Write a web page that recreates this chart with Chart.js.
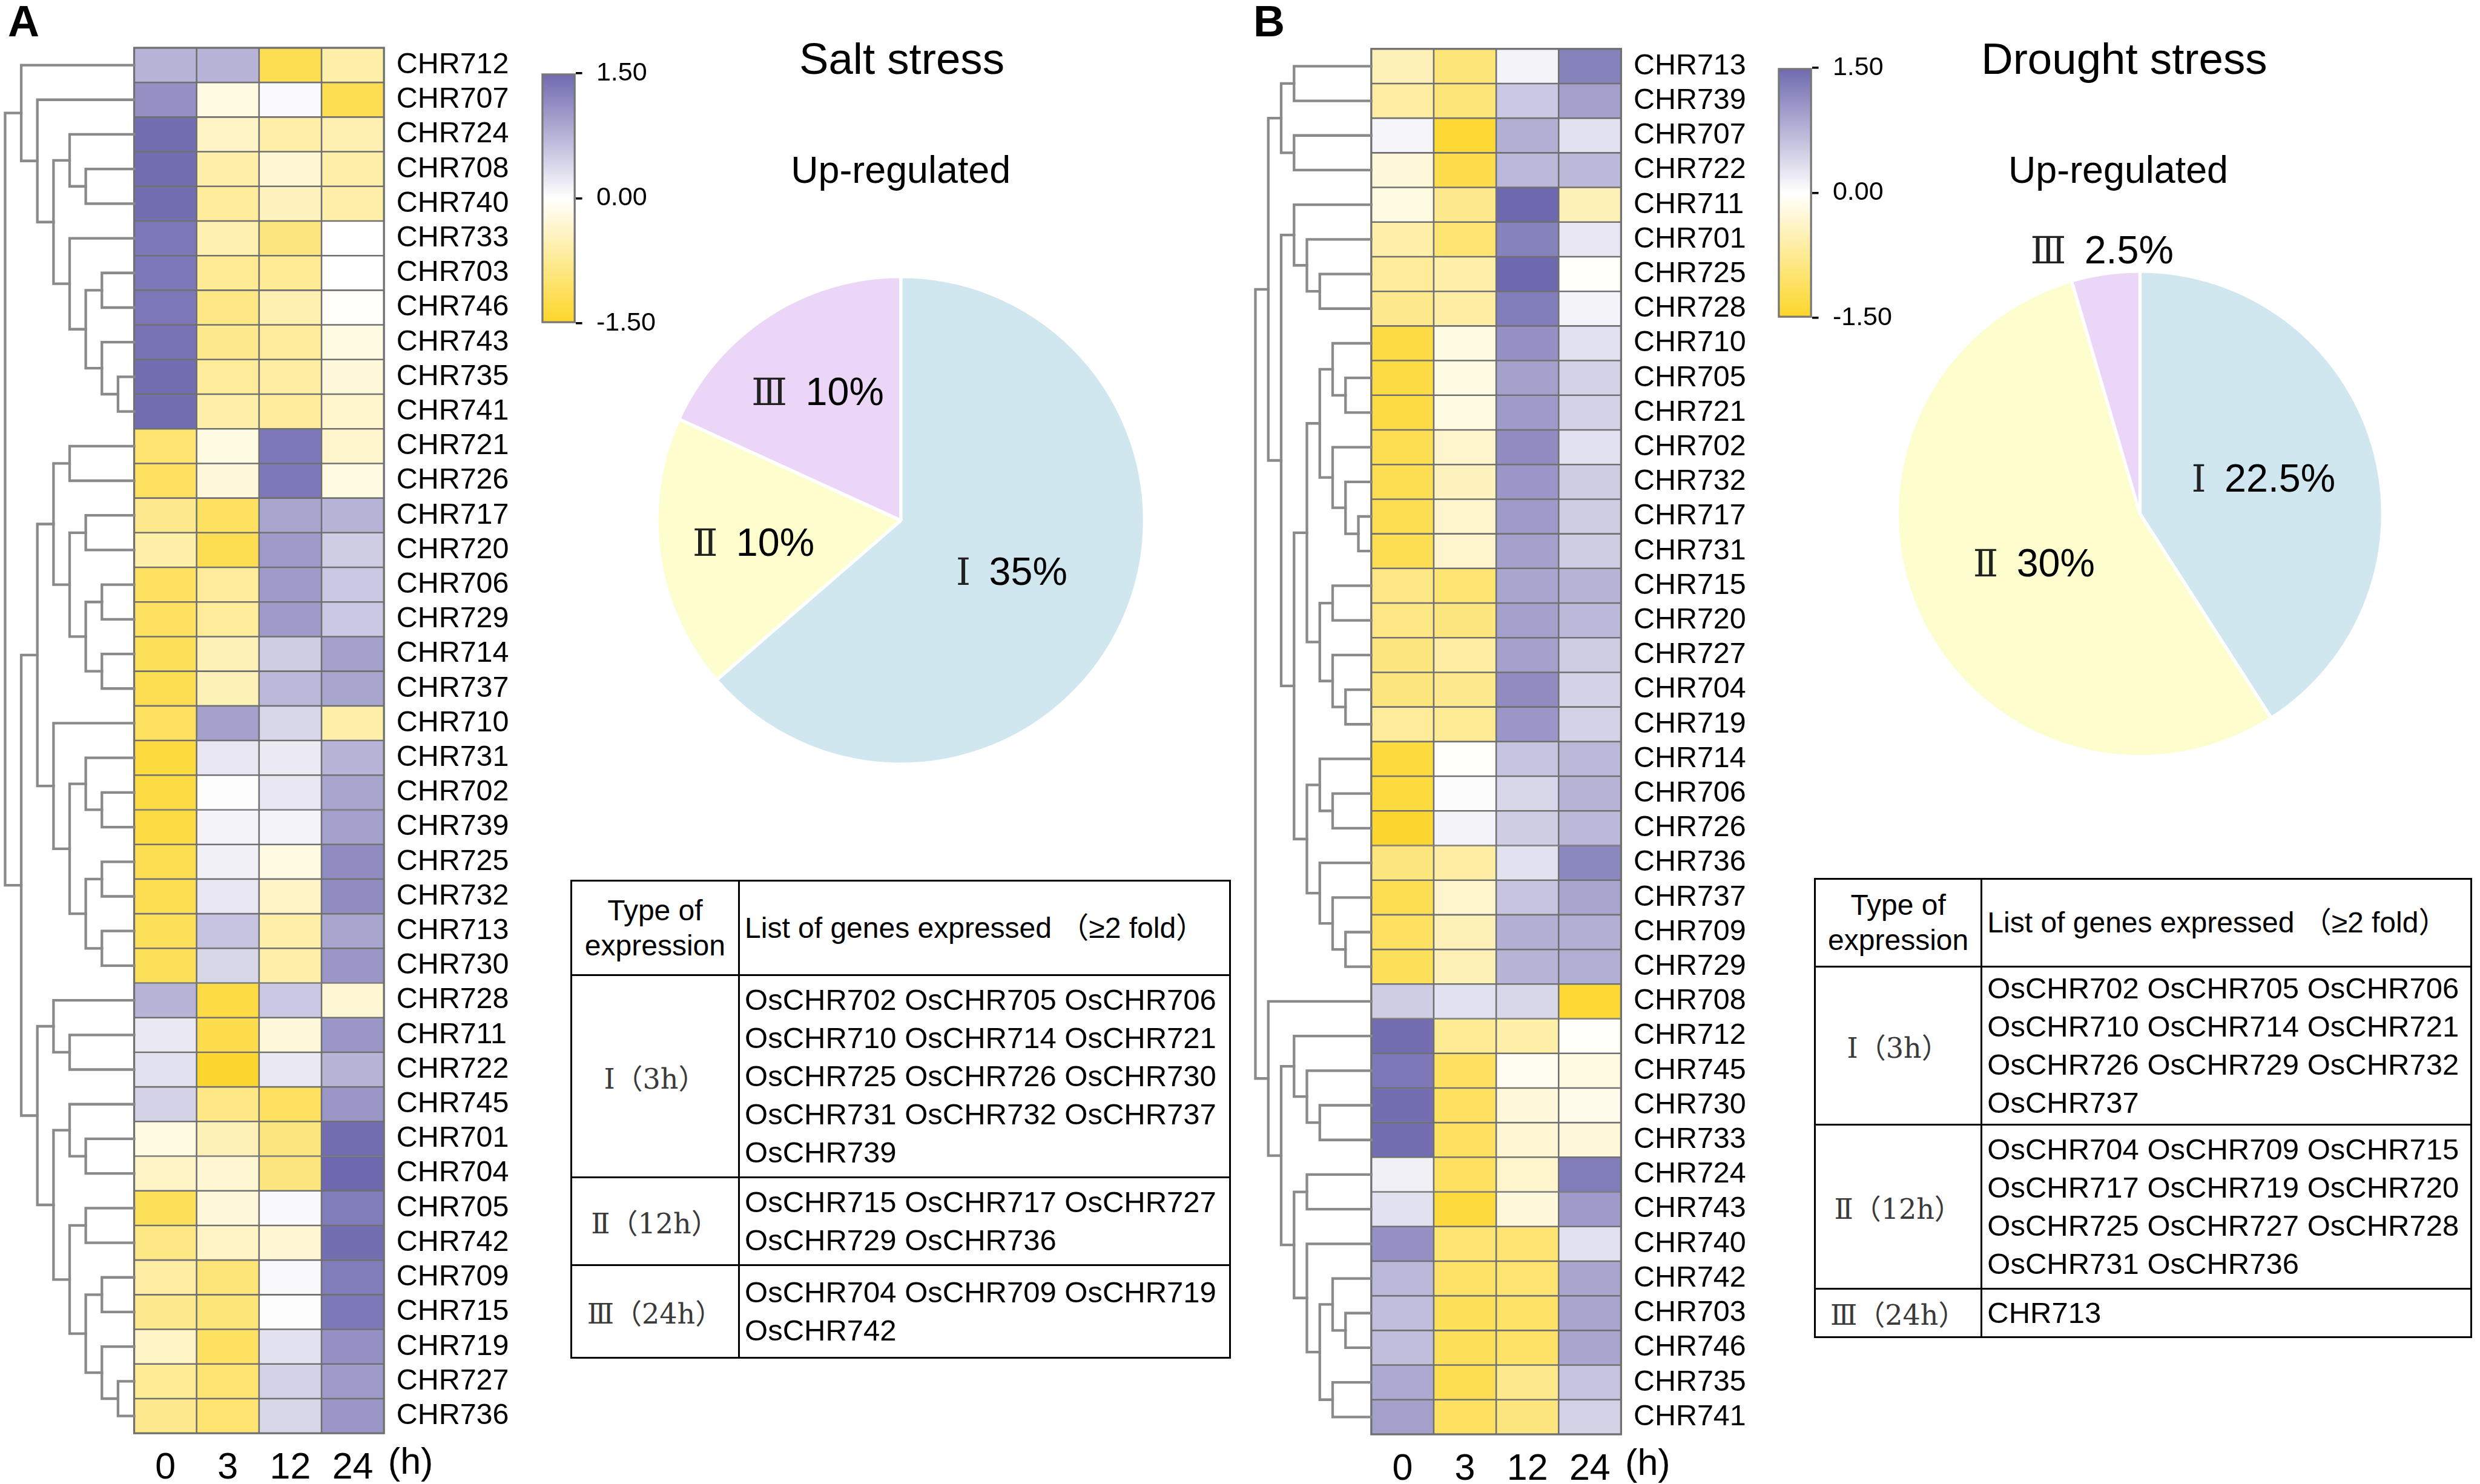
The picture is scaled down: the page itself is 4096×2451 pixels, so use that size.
<!DOCTYPE html>
<html>
<head>
<meta charset="utf-8">
<script src="https://cdn.jsdelivr.net/npm/chart.js@4.4.1/dist/chart.umd.min.js"></script>
<style>
  html, body { margin: 0; padding: 0; background: #fff; }
  #page { position: relative; width: 4096px; height: 2451px; overflow: hidden; background: #fff;
          font-family: 'Liberation Sans', Arial, 'Noto Sans CJK SC', sans-serif; }
  canvas { position: absolute; }
  .letter { position: absolute; font-weight: bold; font-size: 72px; line-height: 1; color: #000; }
  table.genes { position: absolute; border-collapse: collapse; table-layout: fixed; color: #000; }
  table.genes td { border: 3px solid #000; padding: 0 0 0 8px; vertical-align: middle; }
  table.genes td.kind { text-align: center; padding: 0; font-family: 'DejaVu Serif', 'Liberation Serif', 'Noto Sans CJK SC', serif;
                        font-size: 46px; color: #3a3a3a; }
  table.genes td.head { font-size: 48px; line-height: 58px; }
  table.genes td.head.kind { font-family: 'Liberation Sans', Arial, 'Noto Sans CJK SC', sans-serif; color: #000; }
  table.genes td.list { font-size: 49px; line-height: 63px; }
</style>
</head>
<body>
<div id="page"></div>
<script>
const S = 0.897;              // reference px -> window px
const px = v => v * S;
const sans = "'Liberation Sans', Arial, 'Noto Sans CJK SC', sans-serif";
const serif = "'DejaVu Serif', 'Liberation Serif', 'Noto Sans CJK SC', serif";

// ---- data ----
const hours = ['0', '3', '12', '24'];

const saltGenes = ['CHR712','CHR707','CHR724','CHR708','CHR740','CHR733','CHR703','CHR746','CHR743','CHR735',
  'CHR741','CHR721','CHR726','CHR717','CHR720','CHR706','CHR729','CHR714','CHR737','CHR710',
  'CHR731','CHR702','CHR739','CHR725','CHR732','CHR713','CHR730','CHR728','CHR711','CHR722',
  'CHR745','CHR701','CHR704','CHR705','CHR742','CHR709','CHR715','CHR719','CHR727','CHR736'];
const salt0 = [0.75,1.1,1.45,1.45,1.45,1.35,1.35,1.35,1.4,1.45,1.45,-1.0,-1.1,-0.8,-0.6,-1.1,-1.1,-1.15,-1.2,-1.1,
  -1.35,-1.3,-1.3,-1.2,-1.2,-1.15,-1.15,0.75,0.22,0.3,0.45,-0.2,-0.4,-1.15,-0.85,-0.65,-0.8,-0.4,-0.75,-0.8];
const salt3 = [0.75,-0.2,-0.4,-0.6,-0.7,-0.55,-0.75,-0.85,-0.8,-0.7,-0.6,-0.2,-0.25,-1.1,-1.2,-0.7,-0.7,-0.5,-0.5,0.95,
  0.25,0.02,0.12,0.15,0.25,0.6,0.4,-1.3,-1.25,-1.45,-0.85,-0.5,-0.3,-0.25,-0.4,-0.95,-0.95,-1.1,-1.0,-1.0];
const salt12 = [-1.2,0.05,-0.6,-0.3,-0.45,-0.9,-0.75,-0.55,-0.7,-0.65,-0.7,1.35,1.35,0.9,1.0,1.0,1.0,0.5,0.7,0.4,
  0.2,0.25,0.12,-0.2,-0.4,-0.6,-0.6,0.55,-0.25,0.22,-1.1,-0.9,-0.9,0.06,-0.3,0.06,0.02,0.3,0.45,0.4];
const salt24 = [-0.6,-1.2,-0.55,-0.6,-0.6,0,0,-0.05,-0.2,-0.25,-0.35,-0.35,-0.2,0.75,0.5,0.55,0.55,0.95,0.9,-0.6,
  0.75,0.9,0.95,1.15,1.15,0.9,1.05,-0.3,1.05,0.75,1.05,1.45,1.5,1.3,1.45,1.3,1.35,1.1,1.0,1.05];

const droughtGenes = ['CHR713','CHR739','CHR707','CHR722','CHR711','CHR701','CHR725','CHR728','CHR710','CHR705',
  'CHR721','CHR702','CHR732','CHR717','CHR731','CHR715','CHR720','CHR727','CHR704','CHR719',
  'CHR714','CHR706','CHR726','CHR736','CHR737','CHR709','CHR729','CHR708','CHR712','CHR745',
  'CHR730','CHR733','CHR724','CHR743','CHR740','CHR742','CHR703','CHR746','CHR735','CHR741'];
const drought0 = [-0.5,-0.65,0.1,-0.25,-0.2,-0.6,-0.7,-0.8,-1.3,-1.3,-1.3,-1.2,-1.2,-1.2,-1.2,-0.85,-0.85,-0.9,-0.9,-0.7,
  -1.35,-1.35,-1.45,-0.9,-1.2,-1.1,-1.15,0.5,1.45,1.35,1.45,1.45,0.15,0.3,1.1,0.7,0.65,0.65,0.85,0.95];
const drought3 = [-0.95,-0.95,-1.4,-1.25,-0.8,-1.0,-0.6,-0.65,-0.2,-0.2,-0.2,-0.35,-0.45,-0.35,-0.35,-1.0,-0.9,-0.65,-0.8,-0.75,
  -0.05,0.03,0.12,-0.65,-0.35,-0.5,-0.5,0.3,-0.75,-1.1,-1.1,-1.1,-1.1,-1.35,-1.0,-1.05,-1.15,-1.15,-1.2,-1.1];
const drought12 = [0.12,0.55,0.8,0.7,1.5,1.25,1.5,1.3,1.1,0.95,1.0,1.15,1.05,1.0,0.95,0.9,0.95,0.95,1.15,1.05,
  0.6,0.4,0.5,0.3,0.6,0.8,0.75,0.4,-0.6,-0.1,-0.25,-0.3,-0.35,-0.25,-1.0,-1.0,-1.05,-1.05,-0.8,-0.9];
const drought24 = [1.25,0.95,0.3,0.7,-0.5,0.25,-0.05,0.12,0.3,0.45,0.45,0.3,0.5,0.5,0.5,0.75,0.7,0.5,0.45,0.45,
  0.7,0.75,0.7,1.2,0.9,0.8,0.8,-1.4,-0.05,-0.2,-0.15,-0.25,1.3,1.0,0.3,0.9,0.9,0.9,0.6,0.45];

// dendrograms: [left, right, height], leaves are row indexes
const saltTree = [
  [0, [1, [[2, [3, 4, 3], 4], [5, [[6, 7, 2], [8, [9, 10, 1], 2], 3], 4], 5], 6], 7],
  [
    [[[11, 12, 4], [[13, 14, 3], [[15, 16, 2], [17, 18, 2], 3], 4], 5],
     [19, [[20, [21, 22, 2], 3], [[23, 24, 2], [25, 26, 2], 3], 4], 5], 6],
    [[27, [28, 29, 4], 5],
     [[30, [31, 32, 3], 4], [[33, 34, 3], [[35, 36, 2], [37, [38, 39, 1], 2], 3], 4], 5], 6],
    7],
  8];
const droughtTree = [
  [
    [[0, 1, 6], [2, 3, 6], 7],
    [[4, [5, [6, 7, 4], 5], 6],
     [[[[8, [9, 10, 2], 3], [11, [12, [13, 14, 1], 2], 3], 4], [[15, 16, 3], [17, [18, 19, 2], 3], 4], 5],
      [[20, [21, 22, 3], 4], [23, [24, [25, 26, 2], 3], 4], 5], 6],
     7],
    8],
  [27, [[28, [29, [30, 31, 4], 5], 6],
        [[32, 33, 5], [34, [[35, [36, 37, 2], 3], [38, 39, 3], 4], 5], 6], 7], 8],
  9];

const colorTicks = [-1.5, 0, 1.5];

const pieRoman = ['Ⅰ', 'Ⅱ', 'Ⅲ'];
const saltPie = [35, 10, 10];
const droughtPie = [22.5, 30, 2.5];

const saltTable = [
  ['Ⅰ（3h）', ['OsCHR702 OsCHR705 OsCHR706', 'OsCHR710 OsCHR714 OsCHR721', 'OsCHR725 OsCHR726 OsCHR730', 'OsCHR731 OsCHR732 OsCHR737', 'OsCHR739']],
  ['Ⅱ（12h）', ['OsCHR715 OsCHR717 OsCHR727', 'OsCHR729 OsCHR736']],
  ['Ⅲ（24h）', ['OsCHR704 OsCHR709 OsCHR719', 'OsCHR742']]
];
const droughtTable = [
  ['Ⅰ（3h）', ['OsCHR702 OsCHR705 OsCHR706', 'OsCHR710 OsCHR714 OsCHR721', 'OsCHR726 OsCHR729 OsCHR732', 'OsCHR737']],
  ['Ⅱ（12h）', ['OsCHR704 OsCHR709 OsCHR715', 'OsCHR717 OsCHR719 OsCHR720', 'OsCHR725 OsCHR727 OsCHR728', 'OsCHR731 OsCHR736']],
  ['Ⅲ（24h）', ['CHR713']]
];

// ---- colours ----
const PURPLE = [110, 105, 175];
const YELLOW = [253, 214, 40];
const pieColors = ['#d0e7ef', '#fdfdcd', '#ecd6f8'];

function heatColor(v) {
  let t = Math.max(-1, Math.min(1, v / 1.5));
  const end = t >= 0 ? PURPLE : YELLOW;
  t = Math.abs(t);
  const c = end.map(e => Math.round(255 + (e - 255) * t));
  return `rgb(${c[0]},${c[1]},${c[2]})`;
}

Chart.defaults.font.family = sans;
Chart.defaults.color = '#000';
Chart.defaults.animation = false;

const page = document.getElementById('page');

function makeCanvas(x, y, w, h) {
  const c = document.createElement('canvas');
  c.width = Math.round(px(w));
  c.height = Math.round(px(h));
  c.style.left = Math.round(px(x)) + 'px';
  c.style.top = Math.round(px(y)) + 'px';
  c.style.width = c.width + 'px';
  c.style.height = c.height + 'px';
  page.appendChild(c);
  return c;
}

// draws the cluster tree to the left of the heatmap
function drawTree(ctx, node, leafY, leftX, step) {
  if (typeof node === 'number') return { x: leftX, y: leafY(node) };
  const a = drawTree(ctx, node[0], leafY, leftX, step);
  const b = drawTree(ctx, node[1], leafY, leftX, step);
  const x = leftX - node[2] * step;
  ctx.beginPath();
  ctx.moveTo(a.x, a.y);
  ctx.lineTo(x, a.y);
  ctx.lineTo(x, b.y);
  ctx.lineTo(b.x, b.y);
  ctx.stroke();
  return { x: x, y: (a.y + b.y) / 2 };
}

const heatExtras = {
  id: 'heatExtras',
  afterDraw(chart, args, o) {
    const ctx = chart.ctx;
    const area = chart.chartArea;
    const ys = chart.scales.y;
    const xs = chart.scales.x;
    ctx.save();
    ctx.strokeStyle = '#707070';
    ctx.lineWidth = px(3.6);
    ctx.strokeRect(area.left, area.top, area.right - area.left, area.bottom - area.top);
    ctx.strokeStyle = '#8a8a8a';
    ctx.lineWidth = px(4.8);
    ctx.lineCap = 'square';
    drawTree(ctx, o.tree, i => ys.getPixelForValue(i + 0.5), area.left, px(o.step));
    ctx.fillStyle = '#000';
    const f = px(68);
    ctx.font = `${f}px ${sans}`;
    ctx.textAlign = 'center';
    ctx.textBaseline = 'middle';
    ctx.fillText('(h)', area.right + px(49), xs.top + px(15) + f * 0.6);
    ctx.restore();
  }
};

function buildHeatmap(box, genes, cols, tree, step) {
  const canvas = makeCanvas(box.x, box.y, box.w, box.h);
  const datasets = genes.map((g, i) => ({
    label: g,
    data: hours.map(() => 1),
    backgroundColor: cols.map(c => heatColor(c[i])),
    borderColor: '#707070',
    borderWidth: px(1.8),
    borderSkipped: false,
    barPercentage: 1,
    categoryPercentage: 1
  }));
  new Chart(canvas, {
    type: 'bar',
    data: { labels: hours, datasets: datasets },
    options: {
      responsive: false,
      animation: false,
      devicePixelRatio: 1,
      layout: { padding: { left: px(box.areaLeft), top: px(box.areaTop), right: 0, bottom: 0 } },
      plugins: { legend: { display: false }, tooltip: { enabled: false }, heatExtras: { tree: tree, step: step } },
      scales: {
        x: {
          stacked: true,
          grid: { display: false },
          border: { display: false },
          ticks: { font: { size: px(68) }, color: '#000', padding: px(15), maxRotation: 0 },
          afterFit: a => { a.height = canvas.height - px(box.areaBottom); }
        },
        y: {
          stacked: true,
          position: 'right',
          reverse: true,
          min: 0,
          max: genes.length,
          grid: { display: false },
          border: { display: false },
          afterBuildTicks: a => { a.ticks = genes.map((g, i) => ({ value: i + 0.5 })); },
          ticks: { autoSkip: false, font: { size: px(54) }, color: '#000', padding: px(14),
                   callback: (v, i) => genes[i] },
          afterFit: a => { a.width = canvas.width - px(box.areaRight); }
        }
      }
    },
    plugins: [heatExtras]
  });
}

function buildColorbar(box) {
  const canvas = makeCanvas(box.x, box.y, box.w, box.h);
  const chart = new Chart(canvas, {
    type: 'bar',
    data: {
      labels: ['z'],
      datasets: [{
        data: [[colorTicks[0], colorTicks[2]]],
        backgroundColor: c => {
          const ys = c.chart.scales.y;
          if (!ys) return '#fff';
          const lo = ys.getPixelForValue(colorTicks[0]);
          const hi = ys.getPixelForValue(colorTicks[2]);
          if (!isFinite(lo) || !isFinite(hi) || lo === hi) return '#fff';
          const g = c.chart.ctx.createLinearGradient(0, lo, 0, hi);
          g.addColorStop(0, heatColor(colorTicks[0]));
          g.addColorStop(0.5, '#ffffff');
          g.addColorStop(1, heatColor(colorTicks[2]));
          return g;
        },
        borderColor: '#777',
        borderWidth: px(4),
        borderSkipped: false,
        barPercentage: 1,
        categoryPercentage: 1
      }]
    },
    options: {
      responsive: false,
      animation: false,
      devicePixelRatio: 1,
      layout: { padding: { left: px(box.areaLeft), top: px(box.areaTop), right: 0, bottom: canvas.height - px(box.areaBottom) } },
      plugins: { legend: { display: false }, tooltip: { enabled: false } },
      scales: {
        x: { display: false },
        y: {
          position: 'right',
          min: colorTicks[0],
          max: colorTicks[2],
          afterBuildTicks: a => { a.ticks = colorTicks.map(v => ({ value: v })); },
          ticks: { font: { size: px(48) }, color: '#000', padding: px(26), callback: v => v.toFixed(2) },
          grid: { display: true, drawOnChartArea: false, drawTicks: true, tickLength: px(12), color: '#000', lineWidth: px(4) },
          border: { display: false },
          afterFit: a => { a.width = canvas.width - px(box.areaRight); }
        }
      }
    }
  });
  chart.update();
}

const pieText = {
  id: 'pieText',
  afterDraw(chart, args, o) {
    const ctx = chart.ctx;
    ctx.save();
    ctx.fillStyle = '#000';
    ctx.textAlign = 'center';
    ctx.textBaseline = 'alphabetic';
    ctx.font = `${px(81)}px ${sans}`;
    ctx.fillText(o.title, px(o.titleX), px(136));
    ctx.font = `${px(70)}px ${sans}`;
    ctx.fillText(o.subtitle, px(o.subX), px(337));

    const meta = chart.getDatasetMeta(0);
    const values = chart.data.datasets[0].data;
    const romanFont = `${px(68)}px ${serif}`;
    const pctFont = `${px(72)}px ${sans}`;
    ctx.textAlign = 'left';
    meta.data.forEach((arc, i) => {
      const p = arc.getProps(['x', 'y', 'startAngle', 'endAngle', 'outerRadius'], true);
      const mid = (p.startAngle + p.endAngle) / 2;
      const r = p.outerRadius * o.labelRadius[i];
      const cx = p.x + Math.cos(mid) * r;
      const cy = p.y + Math.sin(mid) * r;
      const roman = chart.data.labels[i];
      const pct = values[i] + '%';
      ctx.font = romanFont;
      const wr = ctx.measureText(roman).width;
      ctx.font = pctFont;
      const wp = ctx.measureText(pct).width;
      const gap = px(34);
      const x0 = cx - (wr + gap + wp) / 2;
      const base = cy + px(72) * 0.358;
      ctx.font = romanFont;
      ctx.fillStyle = '#222';
      ctx.fillText(roman, x0, base);
      ctx.font = pctFont;
      ctx.fillStyle = '#000';
      ctx.fillText(pct, x0 + wr + gap, base);
    });
    ctx.restore();
  }
};

function buildPie(box, values, text) {
  const canvas = makeCanvas(box.x, box.y, box.w, box.h);
  new Chart(canvas, {
    type: 'pie',
    data: {
      labels: pieRoman,
      datasets: [{ data: values, backgroundColor: pieColors, borderColor: '#fff', borderWidth: px(6) }]
    },
    options: {
      responsive: false,
      animation: false,
      devicePixelRatio: 1,
      layout: { padding: { left: px(box.padL), right: px(box.padR), top: px(box.padT), bottom: px(box.padB) } },
      plugins: { legend: { display: false }, tooltip: { enabled: false }, pieText: text }
    },
    plugins: [pieText]
  });
}

function buildTable(box, rows) {
  const t = document.createElement('table');
  t.className = 'genes';
  t.style.left = px(box.x) + 'px';
  t.style.top = px(box.y) + 'px';
  t.style.width = px(box.w) + 'px';
  let html = `<colgroup><col style="width:${px(box.col1)}px"><col></colgroup>`;
  html += `<tr style="height:${px(box.rowH[0])}px"><td class="head kind">Type of<br>expression</td>` +
          `<td class="head">List of genes expressed （≥2 fold）</td></tr>`;
  rows.forEach((r, i) => {
    html += `<tr style="height:${px(box.rowH[i + 1])}px"><td class="kind">${r[0]}</td>` +
            `<td class="list">${r[1].join('<br>')}</td></tr>`;
  });
  t.innerHTML = html;
  page.appendChild(t);
}

function letter(ch, x) {
  const d = document.createElement('div');
  d.className = 'letter';
  d.textContent = ch;
  d.style.left = x + 'px';
  d.style.top = '-1px';
  page.appendChild(d);
}

// ---- panel A: salt ----
letter('A', 13);
buildHeatmap({ x: 0, y: 0, w: 985, h: 2730, areaLeft: 247, areaTop: 88, areaRight: 707, areaBottom: 2639 },
  saltGenes, [salt0, salt3, salt12, salt24], saltTree, 29.7);
buildColorbar({ x: 990, y: 80, w: 270, h: 570, areaLeft: 7, areaTop: 39, areaRight: 70, areaBottom: 523 });
buildPie({ x: 1150, y: 0, w: 1020, h: 1420, padL: 56, padR: 60, padT: 506, padB: 10 }, saltPie,
  { title: 'Salt stress', subtitle: 'Up-regulated', titleX: 510, subX: 508, labelRadius: [0.5, 0.61, 0.63] });
buildTable({ x: 1050, y: 1620, w: 1217, col1: 309, rowH: [174, 372, 162, 170] }, saltTable);

// ---- panel B: drought ----
letter('B', 2070);
buildHeatmap({ x: 2290, y: 0, w: 985, h: 2730, areaLeft: 235, areaTop: 90, areaRight: 695, areaBottom: 2641 },
  droughtGenes, [drought0, drought3, drought12, drought24], droughtTree, 23.7);
buildColorbar({ x: 3266, y: 70, w: 270, h: 570, areaLeft: 7, areaTop: 39, areaRight: 70, areaBottom: 522 });
buildPie({ x: 3400, y: 0, w: 1020, h: 1420, padL: 90, padR: 30, padT: 496, padB: 24 }, droughtPie,
  { title: 'Drought stress', subtitle: 'Up-regulated', titleX: 511, subX: 500, labelRadius: [0.53, 0.48, 1.1] });
buildTable({ x: 3340, y: 1616, w: 1212, col1: 307, rowH: [162, 291, 302, 89] }, droughtTable);
</script>
</body>
</html>
